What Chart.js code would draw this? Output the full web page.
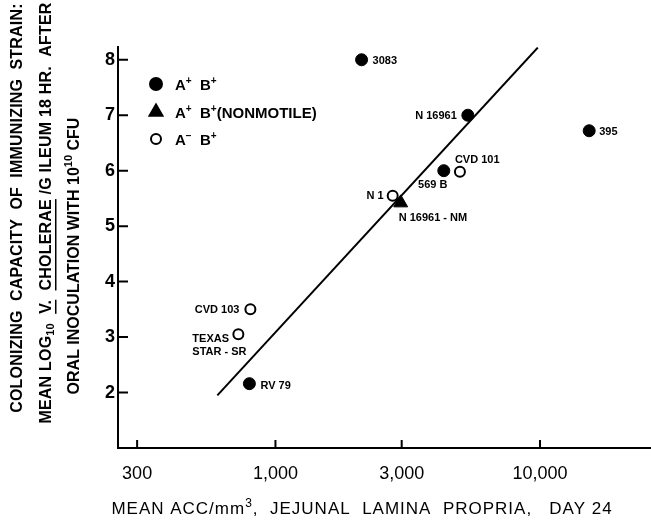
<!DOCTYPE html>
<html><head><meta charset="utf-8">
<script src="https://cdn.jsdelivr.net/npm/chart.js@4.4.0/dist/chart.umd.min.js"></script>
<style>html,body{margin:0;padding:0;background:#fff;overflow:hidden}</style>
</head><body>
<canvas id="c" width="661" height="525"></canvas>
<script>
// ---- values ----
const X_TICKS=[300,1000,3000,10000];
const Y_TICKS=[2,3,4,5,6,7,8];
const FILLED_NAMES=['3083','N 16961','395','569 B','RV 79'];
const FILLED_X=[2116,5335,15340,4327,797];
const FILLED_Y=[8.0,7.0,6.72,6.0,2.16];
const TRI_NAMES=['N 16961 - NM'];
const TRI_X=[2975];
const TRI_Y=[5.42];
const OPEN_NAMES=['N 1','CVD 101','CVD 103','TEXAS|STAR - SR'];
const OPEN_X=[2774,4980,804,724];
const OPEN_Y=[5.55,5.98,3.50,3.05];
const FIT_X=[603,9810];
const FIT_Y=[1.95,8.22];

const FF='"Liberation Sans",Arial,sans-serif';
// label placement relative to marker: dx, dy, align
const LABEL_POS={'3083':[11,4,'left'],'N 16961':[-11,4,'right'],'395':[10,4,'left'],'569 B':[-11,17,'center'],'RV 79':[11,5,'left'],
  'N 16961 - NM':[-2,18,'left'],'N 1':[-9,3,'right'],'CVD 101':[-5,-9,'left'],'CVD 103':[-11,4,'right'],'TEXAS|STAR - SR':[-46,8,'left']};

const pts=(xs,ys)=>xs.map((x,i)=>({x,y:ys[i]}));

// draw a run of text pieces: [text, kind] kind = '' | 'sup' | 'sub' | 'u'
function rich(ctx,parts,x,y,align,size,weight,spacing){
  const f=(s)=>`${weight||'bold'} ${s}px ${FF}`;
  const sz=k=>(k==='sup'||k==='sub')?Math.round(size*0.68):size;
  ctx.letterSpacing=(spacing||0)+'px';
  let w=0;const ws=parts.map(([t,k])=>{ctx.font=f(sz(k));const m=ctx.measureText(t).width;w+=m;return m});
  let cx=align==='center'?x-w/2:align==='right'?x-w:x;
  ctx.textAlign='left';ctx.textBaseline='alphabetic';
  parts.forEach(([t,k],i)=>{
    ctx.font=f(sz(k));
    const dy=k==='sup'?-size*0.42:k==='sub'?size*0.2:0;
    ctx.fillText(t,cx,y+dy);
    if(k==='u'){ctx.fillRect(cx,y+4,ws[i],1.5)}
    cx+=ws[i];
  });
  ctx.letterSpacing='0px';
}

const annot={id:'annot',afterDraw(chart){
  const ctx=chart.ctx,xs=chart.scales.x,ys=chart.scales.y,a=chart.chartArea;
  ctx.save();ctx.fillStyle='#000';ctx.strokeStyle='#000';ctx.lineWidth=2;
  // inward tick marks
  ctx.beginPath();
  Y_TICKS.forEach(v=>{const y=ys.getPixelForValue(v);ctx.moveTo(a.left,y);ctx.lineTo(a.left+10,y)});
  X_TICKS.forEach(v=>{const x=xs.getPixelForValue(v);ctx.moveTo(x,a.bottom);ctx.lineTo(x,a.bottom-8)});
  ctx.stroke();
  // point labels
  ctx.font=`bold 11px ${FF}`;ctx.textBaseline='alphabetic';
  chart.data.datasets.forEach((ds,di)=>{
    if(!ds.names)return;
    chart.getDatasetMeta(di).data.forEach((el,i)=>{
      const name=ds.names[i],p=LABEL_POS[name];
      ctx.textAlign=p[2];
      name.split('|').forEach((ln,j)=>ctx.fillText(ln,el.x+p[0],el.y+p[1]+j*13));
    });
  });
  // legend
  const lx=156,lt=[84,112,139];
  Chart.helpers.drawPoint(ctx,{pointStyle:'circle',radius:6,borderWidth:1},lx,lt[0]);
  Chart.helpers.drawPoint(ctx,{pointStyle:'triangle',radius:7.5,borderWidth:1},lx,lt[1]);
  ctx.fillStyle='#fff';ctx.lineWidth=2;
  Chart.helpers.drawPoint(ctx,{pointStyle:'circle',radius:5,borderWidth:2},lx,lt[2]);
  ctx.fillStyle='#000';
  rich(ctx,[['A',''],['+','sup'],['  B',''],['+','sup']],175,lt[0]+6,'left',15);
  rich(ctx,[['A',''],['+','sup'],['  B',''],['+','sup'],['(NONMOTILE)','']],175,lt[1]+6,'left',15);
  rich(ctx,[['A',''],['\u2212','sup'],['  B',''],['+','sup']],175,lt[2]+6,'left',15);
  // x title
  rich(ctx,[['MEAN ACC/mm',''],['3','sup'],[',  JEJUNAL  LAMINA  PROPRIA,   DAY 24','']],362,514,'center',17,'normal',1);
  // rotated y titles
  const col=(parts,cx,cy,sp)=>{ctx.save();ctx.translate(cx,cy);ctx.rotate(-Math.PI/2);rich(ctx,parts,0,6,'center',16,'bold',sp);ctx.restore()};
  col([['COLONIZING  CAPACITY  OF  IMMUNIZING  STRAIN:','']],16,208,0.2);
  col([['MEAN LOG',''],['10','sub'],['  ',''],['V.','u'],['  ',''],['CHOLERAE','u'],[' /G ILEUM 18 HR.  AFTER','']],45,213,0.2);
  col([['ORAL INOCULATION WITH 10',''],['10','sup'],[' CFU','']],73,256,0);
  ctx.restore();
}};

new Chart(document.getElementById('c'),{
  type:'scatter',
  data:{datasets:[
    {data:pts(FILLED_X,FILLED_Y),names:FILLED_NAMES,pointStyle:'circle',pointRadius:6,backgroundColor:'#000',borderColor:'#000',borderWidth:1},
    {data:pts(TRI_X,TRI_Y),names:TRI_NAMES,pointStyle:'triangle',pointRadius:8,backgroundColor:'#000',borderColor:'#000',borderWidth:1},
    {data:pts(OPEN_X,OPEN_Y),names:OPEN_NAMES,pointStyle:'circle',pointRadius:5,backgroundColor:'#fff',borderColor:'#000',borderWidth:2},
    {type:'line',data:pts(FIT_X,FIT_Y),borderColor:'#000',borderWidth:2,pointRadius:0,fill:false,order:1}
  ]},
  options:{responsive:false,animation:false,events:[],
    layout:{padding:{top:47,right:0,left:0,bottom:0}},
    plugins:{legend:{display:false},tooltip:{enabled:false}},
    scales:{
      x:{type:'logarithmic',min:254,max:26500,
        afterFit:s=>{s.height=77},
        afterBuildTicks:s=>{s.ticks=X_TICKS.map(v=>({value:v}))},
        grid:{display:false,drawTicks:false},border:{display:true,color:'#000',width:2},
        ticks:{padding:15,color:'#000',autoSkip:false,maxRotation:0,font:{family:FF,size:18},callback:v=>Number(v).toLocaleString('en-US')}},
      y:{min:1.0,max:8.23,
        afterFit:s=>{s.width=118},
        afterBuildTicks:s=>{s.ticks=Y_TICKS.map(v=>({value:v}))},
        grid:{display:false,drawTicks:false},border:{display:true,color:'#000',width:2},
        ticks:{padding:3,color:'#000',font:{family:FF,size:18,weight:'bold'}}}
    }
  },
  plugins:[annot]
});
</script>
</body></html>
